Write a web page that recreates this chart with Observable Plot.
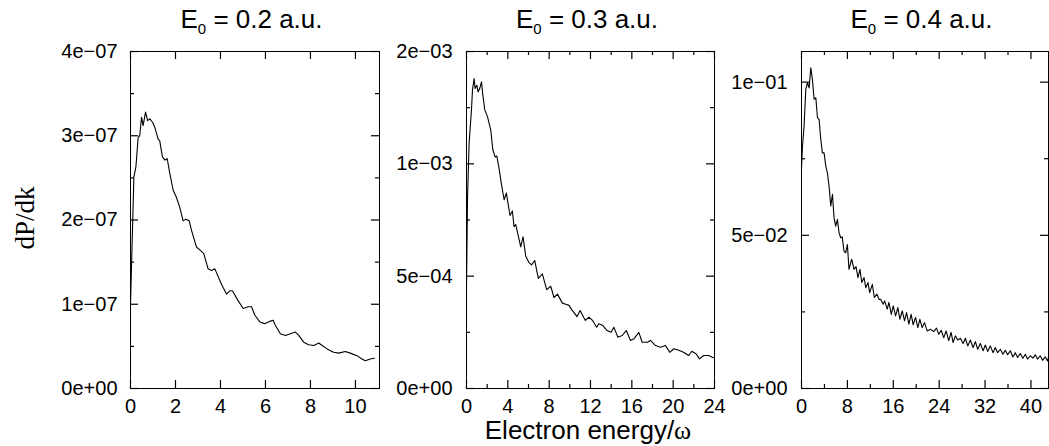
<!DOCTYPE html>
<html>
<head>
<meta charset="utf-8">
<script src="https://cdn.jsdelivr.net/npm/d3@7"></script>
<script src="https://cdn.jsdelivr.net/npm/@observablehq/plot@0.6"></script>
<style>
  html, body { margin: 0; padding: 0; background: #fff; }
  #wrap { position: relative; width: 1049px; height: 446px; overflow: hidden; background: #fff;
          font-family: "Liberation Sans", Arial, Helvetica, sans-serif; color: #000; }
  .panel { position: absolute; top: 0; }
  .panel svg { background: transparent; overflow: visible; }
  .title { position: absolute; top: 6px; font-size: 26px; line-height: 1; white-space: nowrap; transform: translateX(-50%); }
  .title sub { font-size: 15px; vertical-align: -6px; line-height: 0; }
  .ylab { position: absolute; left: 25px; top: 218px; font-family: "Liberation Serif", "Times New Roman", serif;
          font-size: 27px; line-height: 1; white-space: nowrap; transform: translate(-50%, -50%) rotate(-90deg); }
  .xlab { position: absolute; left: 588px; top: 419px; font-size: 26px; line-height: 0.85; white-space: nowrap; transform: translateX(-50%); }
  .xlab .w { font-family: "Liberation Serif", "Times New Roman", serif; }
</style>
</head>
<body>
<div id="wrap"></div>
<script>
// ---------- data ----------
const panelTitles = ["0.2", "0.3", "0.4"];

// E0 = 0.2 a.u. : electron energy / omega, dP/dk in units of 1e-7
const e02Energy = [0,0.15,0.24,0.34,0.41,0.49,0.56,0.67,0.76,0.86,0.98,1.08,1.23,1.30,1.42,1.53,1.63,1.75,1.90,2.04,2.19,2.34,2.46,2.61,2.71,2.93,3.11,3.26,3.45,3.60,3.75,4.04,4.27,4.41,4.53,4.79,5.01,5.23,5.38,5.53,5.75,5.97,6.22,6.34,6.44,6.66,6.89,7.11,7.33,7.48,7.70,7.92,8.15,8.37,8.52,8.74,9.03,9.26,9.55,9.77,10.07,10.29,10.44,10.66,10.84];
const e02dPdk = [1.0,2.51,2.63,2.98,3.0,3.22,3.12,3.28,3.18,3.20,3.16,3.10,2.96,2.94,2.75,2.71,2.73,2.55,2.35,2.27,2.15,1.99,2.01,1.99,1.88,1.68,1.64,1.60,1.42,1.40,1.42,1.24,1.12,1.16,1.16,1.04,0.95,0.97,0.97,0.87,0.79,0.77,0.80,0.81,0.75,0.65,0.63,0.65,0.67,0.63,0.55,0.52,0.51,0.54,0.51,0.47,0.43,0.42,0.44,0.42,0.39,0.35,0.33,0.35,0.36];

// E0 = 0.3 a.u. : dP/dk in units of 1e-4
const e03Energy = [0,0.1,0.25,0.48,0.58,0.74,0.83,1.0,1.12,1.28,1.45,1.57,1.77,2.03,2.35,2.54,2.77,2.93,3.15,3.38,3.64,3.86,4.21,4.44,4.6,4.76,5.25,5.47,5.73,6.05,6.3,6.6,6.95,7.34,7.76,8.15,8.47,8.8,9.28,9.6,9.92,10.2,10.7,11.0,11.5,11.85,12.2,12.6,12.8,13.2,13.6,14.0,14.26,14.65,15.07,15.46,15.87,16.2,16.68,17.0,17.5,17.8,18.3,18.77,19.26,19.67,20.06,20.54,21.0,21.5,21.8,22.2,22.56,22.95,23.43,23.9];
const e03dPdk = [4.5,8.5,10.9,12.4,13.3,13.8,13.35,13.5,13.2,13.35,13.65,13.1,12.4,12.1,11.5,10.65,10.3,10.35,9.8,9.1,8.4,8.7,7.7,7.9,7.2,7.3,6.3,6.75,5.9,5.6,5.5,5.7,4.9,5.1,4.4,4.55,4.05,4.2,3.8,3.75,3.7,3.5,3.2,3.47,3.03,3.17,3.03,2.73,2.88,2.8,2.58,2.5,2.73,2.28,2.36,2.58,2.14,2.21,2.5,2.06,2.06,2.14,1.91,1.84,1.91,1.61,1.77,1.7,1.61,1.47,1.66,1.55,1.32,1.47,1.47,1.37];

// E0 = 0.4 a.u. : dP/dk in units of 1e-2
const e04Energy = [0,0.17,0.46,0.75,1.04,1.33,1.62,1.9,2.2,2.5,2.78,3.07,3.36,3.65,3.94,4.23,4.52,4.8,5.1,5.4,5.67,5.96,6.26,6.54,6.83,7.1,7.4,7.7,8.0,8.28,8.75,9.15,9.5,9.84,10.2,10.5,10.9,11.2,11.6,11.88,12.35,12.7,13.15,13.5,
  13.79,14.25,14.49,14.95,15.24,15.65,15.99,16.40,16.80,17.15,17.56,17.96,18.31,18.72,19.12,19.47,19.88,20.28,20.63,21.04,21.44,21.91,22.49,23.07,23.53,23.93,24.34,24.80,25.21,25.67,26.08,26.43,26.83,27.24,27.70,28.17,28.57,28.98,29.44,29.91,30.31,30.72,31.18,31.65,32.05,32.46,32.92,33.38,33.79,34.20,34.66,35.12,35.53,35.93,36.40,36.86,37.27,37.67,38.14,38.60,39.01,39.41,39.88,40.34,40.75,41.15,41.62,42.02,42.49,42.89,43.06];
const e04dPdk = [7.2,7.9,8.6,9.76,9.98,9.81,10.47,10.09,9.44,9.49,8.84,8.78,8.13,7.69,7.69,7.26,7.04,6.61,5.96,6.34,5.58,5.3,5.52,5.09,4.92,4.95,4.49,4.43,4.7,3.89,4.22,3.89,3.98,3.62,3.89,3.46,3.62,3.29,3.46,3.13,3.4,2.97,3.08,2.91,
  2.91,2.75,2.86,2.59,2.81,2.42,2.70,2.37,2.64,2.26,2.53,2.21,2.48,2.10,2.42,2.08,2.32,1.99,2.26,1.99,2.15,1.88,1.93,1.86,1.97,1.77,1.90,1.66,1.88,1.56,1.83,1.50,1.72,1.58,1.64,1.47,1.64,1.39,1.58,1.34,1.53,1.28,1.47,1.23,1.42,1.21,1.39,1.17,1.34,1.17,1.28,1.12,1.25,1.10,1.23,1.03,1.17,1.01,1.14,0.99,1.12,0.96,1.07,0.99,1.10,0.96,1.07,0.92,1.03,0.90,1.02];

// axis ranges and ticks
const e02XDomain = [0, 11.07], e02YDomain = [0, 4];
const e02XMajor = [0,2,4,6,8,10], e02XMinor = [];
const e02XLabels = ["0","2","4","6","8","10"];
const e02YMajor = [0,1,2,3,4], e02YMinor = [0.5,1.5,2.5,3.5];
const e02YLabels = ["0e+00","1e\u221207","2e\u221207","3e\u221207","4e\u221207"];

const e03XDomain = [0, 24], e03YDomain = [0, 15];
const e03XMajor = [0,4,8,12,16,20,24], e03XMinor = [2,6,10,14,18,22];
const e03XLabels = ["0","4","8","12","16","20","24"];
const e03YMajor = [0,5,10,15], e03YMinor = [2.5,7.5,12.5];
const e03YLabels = ["0e+00","5e\u221204","1e\u221203","2e\u221203"];

const e04XDomain = [0, 43.06], e04YDomain = [0, 11];
const e04XMajor = [0,8,16,24,32,40], e04XMinor = [4,12,20,28,36];
const e04XLabels = ["0","8","16","24","32","40"];
const e04YMajor = [0,5,10], e04YMinor = [2.5,7.5];
const e04YLabels = ["0e+00","5e\u221202","1e\u221201"];

const yAxisTitle = "dP/dk";
const xAxisTitle = "Electron energy/";

// ---------- drawing ----------
const wrap = document.getElementById("wrap");
const H = 446, MT = 51, MB = 58;

function inwardTicks(ticks, side, size, fw, fh) {
  const s = {stroke: "#000", strokeWidth: 1.2};
  if (side === "bottom") return Plot.tickX(ticks, {x: d => d, insetTop: fh - size, ...s});
  if (side === "top") return Plot.tickX(ticks, {x: d => d, insetBottom: fh - size, ...s});
  if (side === "left") return Plot.tickY(ticks, {y: d => d, insetRight: fw - size, ...s});
  return Plot.tickY(ticks, {y: d => d, insetLeft: fw - size, ...s});
}

function panel(cfg) {
  const data = cfg.xs.map((x, i) => ({x, y: cfg.ys[i]}));
  const xl = new Map(cfg.xMajor.map((d, i) => [d, cfg.xLabels[i]]));
  const yl = new Map(cfg.yMajor.map((d, i) => [d, cfg.yLabels[i]]));
  const fw = cfg.width - cfg.ml - cfg.mr, fh = H - MT - MB;
  const marks = [
    Plot.line(data, {x: "x", y: "y", stroke: "#000", strokeWidth: 1.1, curve: "linear"}),
    inwardTicks(cfg.xMajor, "bottom", 8, fw, fh),
    inwardTicks(cfg.xMajor, "top", 8, fw, fh),
    inwardTicks(cfg.yMajor, "left", 8, fw, fh),
    inwardTicks(cfg.yMajor, "right", 8, fw, fh),
    inwardTicks(cfg.xMinor, "bottom", 4, fw, fh),
    inwardTicks(cfg.xMinor, "top", 4, fw, fh),
    inwardTicks(cfg.yMinor, "left", 4, fw, fh),
    inwardTicks(cfg.yMinor, "right", 4, fw, fh),
    Plot.frame({stroke: "#000", strokeWidth: 1}),
    Plot.axisX(cfg.xMajor, {anchor: "bottom", tickSize: 0, tickPadding: 10, tickFormat: d => xl.get(d), label: null}),
    Plot.axisY(cfg.yMajor, {anchor: "left", tickSize: 0, tickPadding: cfg.yPad, tickFormat: d => yl.get(d), label: null})
  ];
  const svg = Plot.plot({
    width: cfg.width, height: H,
    marginLeft: cfg.ml, marginRight: cfg.mr, marginTop: MT, marginBottom: MB,
    x: {domain: cfg.xDomain, axis: null, label: null},
    y: {domain: cfg.yDomain, axis: null, label: null},
    style: {fontFamily: "'Liberation Sans', Arial, sans-serif", fontSize: "20px", color: "#000", background: "transparent", overflow: "visible"},
    marks
  });
  const div = document.createElement("div");
  div.className = "panel";
  div.style.left = cfg.left + "px";
  div.style.width = cfg.width + "px";
  div.appendChild(svg);
  wrap.appendChild(div);

  const t = document.createElement("div");
  t.className = "title";
  t.style.left = (cfg.left + cfg.ml + fw / 2 - 3) + "px";
  t.innerHTML = "E<sub>0</sub> = " + cfg.title + " a.u.";
  wrap.appendChild(t);
}

panel({left: 0, width: 385, ml: 130, mr: 6, yPad: 13, title: panelTitles[0],
  xs: e02Energy, ys: e02dPdk, xDomain: e02XDomain, yDomain: e02YDomain,
  xMajor: e02XMajor, xMinor: e02XMinor, xLabels: e02XLabels,
  yMajor: e02YMajor, yMinor: e02YMinor, yLabels: e02YLabels});
panel({left: 385, width: 335, ml: 81, mr: 6, yPad: 14, title: panelTitles[1],
  xs: e03Energy, ys: e03dPdk, xDomain: e03XDomain, yDomain: e03YDomain,
  xMajor: e03XMajor, xMinor: e03XMinor, xLabels: e03XLabels,
  yMajor: e03YMajor, yMinor: e03YMinor, yLabels: e03YLabels});
panel({left: 720, width: 329, ml: 81, mr: 1, yPad: 14, title: panelTitles[2],
  xs: e04Energy, ys: e04dPdk, xDomain: e04XDomain, yDomain: e04YDomain,
  xMajor: e04XMajor, xMinor: e04XMinor, xLabels: e04XLabels,
  yMajor: e04YMajor, yMinor: e04YMinor, yLabels: e04YLabels});

const ylab = document.createElement("div");
ylab.className = "ylab";
ylab.textContent = yAxisTitle;
wrap.appendChild(ylab);

const xlab = document.createElement("div");
xlab.className = "xlab";
xlab.innerHTML = xAxisTitle + '<span class="w">\u03C9</span>';
wrap.appendChild(xlab);
</script>
</body>
</html>
